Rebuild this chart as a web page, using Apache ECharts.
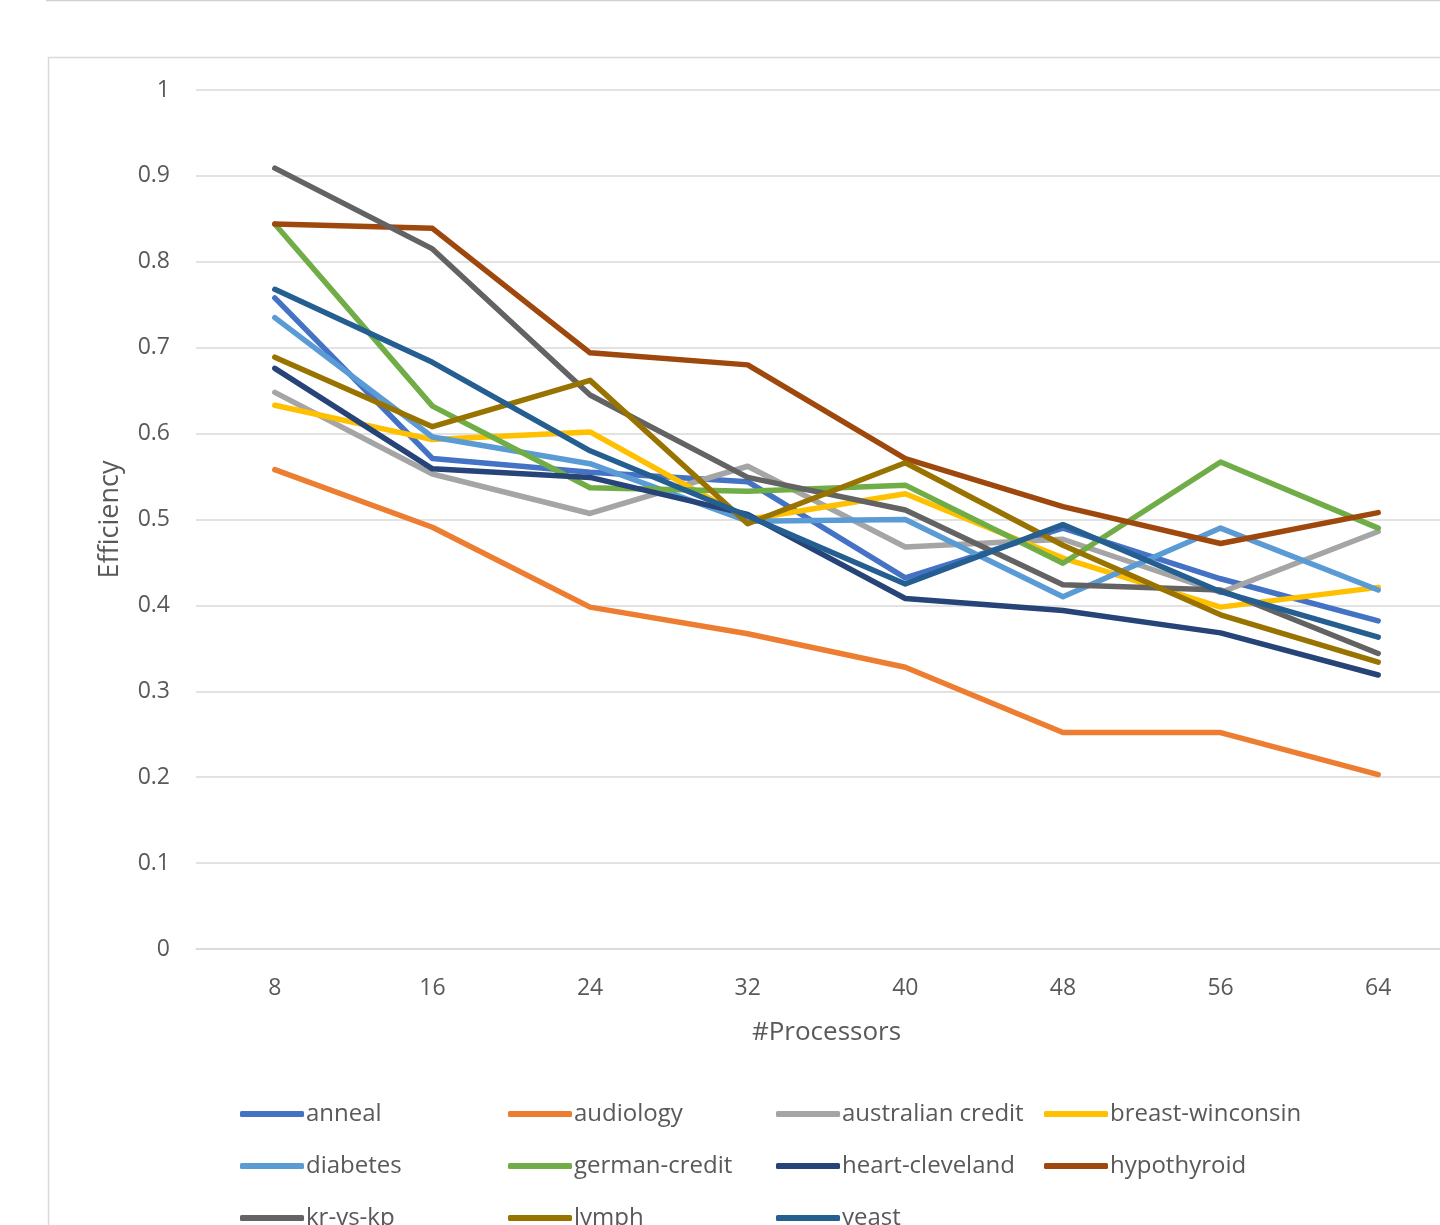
<!DOCTYPE html>
<html>
<head>
<meta charset="utf-8">
<title>Efficiency vs #Processors</title>
<script src="https://cdn.jsdelivr.net/npm/echarts@6/dist/echarts.min.js"></script>
<style>
  html, body { margin: 0; padding: 0; background: #ffffff; }
  #chart { width: 1440px; height: 1225px; }
</style>
</head>
<body>
<div id="chart"></div>
<script>
// Processor counts on the x axis
const processors = ['8', '16', '24', '32', '40', '48', '56', '64'];

// Parallel efficiency per dataset
const anneal          = [0.758, 0.571, 0.555, 0.544, 0.432, 0.490, 0.431, 0.382];
const audiology       = [0.558, 0.491, 0.398, 0.367, 0.328, 0.252, 0.252, 0.203];
const australianCredit= [0.648, 0.553, 0.507, 0.562, 0.468, 0.477, 0.415, 0.486];
const breastWinconsin = [0.633, 0.593, 0.602, 0.500, 0.530, 0.455, 0.398, 0.421];
const diabetes        = [0.735, 0.596, 0.565, 0.498, 0.500, 0.410, 0.490, 0.418];
const germanCredit    = [0.844, 0.632, 0.537, 0.533, 0.540, 0.449, 0.567, 0.490];
const heartCleveland  = [0.676, 0.559, 0.549, 0.506, 0.408, 0.394, 0.368, 0.319];
const hypothyroid     = [0.844, 0.839, 0.694, 0.680, 0.571, 0.515, 0.472, 0.508];
const krVsKp          = [0.909, 0.815, 0.645, 0.549, 0.511, 0.424, 0.418, 0.344];
const lymph           = [0.689, 0.608, 0.662, 0.495, 0.566, 0.470, 0.389, 0.334];
const yeast           = [0.768, 0.683, 0.580, 0.504, 0.425, 0.494, 0.416, 0.363];

// Y axis tick labels
const yTickLabels = ['0', '0.1', '0.2', '0.3', '0.4', '0.5', '0.6', '0.7', '0.8', '0.9', '1'];

const seriesDefs = [
  { name: 'anneal',            data: anneal,           color: '#4472C4' },
  { name: 'audiology',         data: audiology,        color: '#ED7D31' },
  { name: 'australian credit', data: australianCredit, color: '#A5A5A5' },
  { name: 'breast-winconsin',  data: breastWinconsin,  color: '#FFC000' },
  { name: 'diabetes',          data: diabetes,         color: '#5B9BD5' },
  { name: 'german-credit',     data: germanCredit,     color: '#70AD47' },
  { name: 'heart-cleveland',   data: heartCleveland,   color: '#264478' },
  { name: 'hypothyroid',       data: hypothyroid,      color: '#9E480E' },
  { name: 'kr-vs-kp',          data: krVsKp,           color: '#636363' },
  { name: 'lymph',             data: lymph,            color: '#997300' },
  { name: 'yeast',             data: yeast,            color: '#255E91' }
];

const FONT = '"Open Sans", "Liberation Sans", sans-serif';
const TEXT_COLOR = '#595959';
const GRID_COLOR = '#d9d9d9';

// Legend: a 4-column table, filled row by row; one legend component per entry
const columnLefts = [240, 508, 776, 1044];
const rowTops = [1102, 1154, 1206];

const legends = seriesDefs.map((s, i) => ({
  data: [s.name],
  orient: 'horizontal',
  left: columnLefts[i % 4],
  top: rowTops[Math.floor(i / 4)],
  itemWidth: 64,
  itemHeight: 6,
  icon: 'roundRect',
  selectedMode: false,
  padding: 0,
  textStyle: { fontFamily: FONT, fontSize: 24, color: TEXT_COLOR, padding: [0, 0, 0, -3] }
}));

const chart = echarts.init(document.getElementById('chart'), null, { renderer: 'canvas' });

chart.setOption({
  animation: false,
  backgroundColor: '#ffffff',
  color: seriesDefs.map(s => s.color),
  graphic: [
    // thin rule at the very top of the page
    { type: 'line', shape: { x1: 46, y1: 0.5, x2: 1440, y2: 0.5 },
      style: { stroke: '#d0d0d0', lineWidth: 1.5 }, silent: true },
    // chart area frame
    { type: 'rect', shape: { x: 48.5, y: 57.5, width: 1500, height: 1300 },
      style: { fill: 'none', stroke: '#d9d9d9', lineWidth: 1.5 }, silent: true, z: -1 }
  ],
  legend: legends,
  // the plot area runs past the right edge of the page
  grid: { left: 196, top: 90, width: 1261, bottom: 276, containLabel: false, outerBoundsMode: 'none' },
  xAxis: {
    type: 'category',
    data: processors,
    boundaryGap: true,
    name: '#Processors',
    nameLocation: 'middle',
    nameGap: 71,
    nameTextStyle: { fontFamily: FONT, fontSize: 26, color: TEXT_COLOR },
    axisLine: { show: true, lineStyle: { color: GRID_COLOR, width: 1.5 } },
    axisTick: { show: false },
    axisLabel: { margin: 28, fontFamily: FONT, fontSize: 23, color: TEXT_COLOR },
    splitLine: { show: false }
  },
  yAxis: {
    type: 'value',
    min: 0,
    max: 1,
    interval: 0.1,
    name: 'Efficiency',
    nameLocation: 'middle',
    nameGap: 72,
    nameRotate: 90,
    nameTextStyle: { fontFamily: FONT, fontSize: 27, color: TEXT_COLOR },
    axisLine: { show: false },
    axisTick: { show: false },
    axisLabel: {
      margin: 26,
      fontFamily: FONT, fontSize: 23, color: TEXT_COLOR,
      formatter: (v) => yTickLabels[Math.round(v * 10)]
    },
    splitLine: { show: true, lineStyle: { color: GRID_COLOR, width: 1.5 } }
  },
  series: seriesDefs.map(s => ({
    name: s.name,
    type: 'line',
    data: s.data,
    showSymbol: false,
    symbol: 'none',
    lineStyle: { width: 5.5, color: s.color, cap: 'round', join: 'round' },
    itemStyle: { color: s.color },
    emphasis: { disabled: true }
  }))
});
</script>
</body>
</html>
